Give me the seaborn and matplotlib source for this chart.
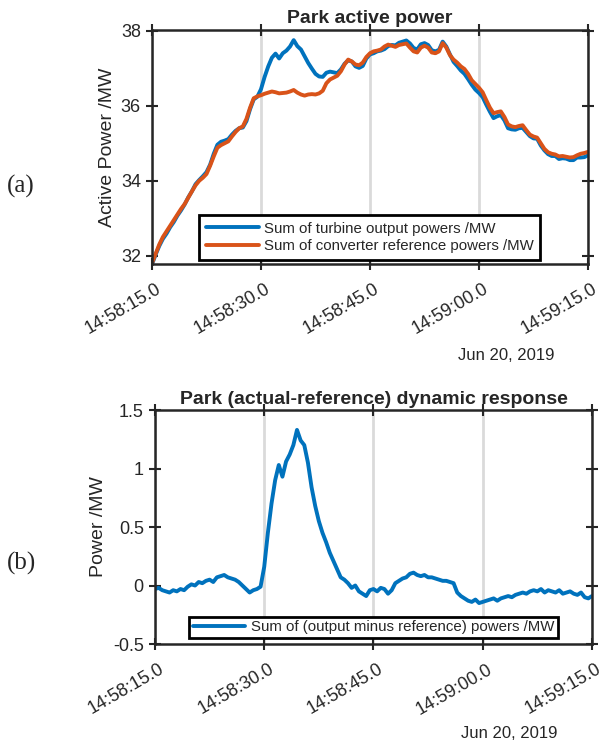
import numpy as np
import pandas as pd
import matplotlib
matplotlib.use("Agg")
import matplotlib.pyplot as plt
import matplotlib.dates as mdates
from matplotlib.ticker import FuncFormatter, FixedLocator
from matplotlib.transforms import ScaledTranslation
import seaborn as sns

# ---------------- data ----------------
start_time = "2019-06-20 14:58:15"
n_samples = 121          # one sample every 0.5 s, 14:58:15 .. 14:59:15

turbine_output = [
    31.77, 32.03, 32.26, 32.45, 32.59, 32.76, 32.90, 33.07, 33.21, 33.37,
    33.56, 33.72, 33.91, 34.02, 34.12, 34.23, 34.43, 34.72, 34.96, 35.04,
    35.07, 35.11, 35.23, 35.33, 35.40, 35.42, 35.59, 35.91, 36.17, 36.24,
    36.44, 36.77, 37.05, 37.28, 37.39, 37.26, 37.40, 37.47, 37.58, 37.75,
    37.59, 37.50, 37.32, 37.14, 36.99, 36.85, 36.78, 36.77, 36.88, 36.91,
    36.89, 36.87, 36.97, 37.12, 37.21, 37.18, 37.05, 37.01, 37.06, 37.26,
    37.37, 37.40, 37.45, 37.47, 37.51, 37.59, 37.62, 37.61, 37.68, 37.71,
    37.74, 37.66, 37.54, 37.50, 37.64, 37.67, 37.62, 37.48, 37.45, 37.49,
    37.71, 37.58, 37.37, 37.17, 37.06, 36.94, 36.85, 36.71, 36.56, 36.43,
    36.34, 36.23, 36.03, 35.84, 35.67, 35.72, 35.75, 35.61, 35.40, 35.37,
    35.36, 35.40, 35.41, 35.30, 35.19, 35.13, 35.12, 34.94, 34.81, 34.71,
    34.66, 34.66, 34.58, 34.60, 34.59, 34.55, 34.55, 34.62, 34.62, 34.63,
    34.68,
]

converter_reference = [
    31.80, 32.05, 32.30, 32.50, 32.65, 32.80, 32.95, 33.10, 33.25, 33.38,
    33.55, 33.72, 33.88, 34.00, 34.08, 34.18, 34.40, 34.65, 34.88, 34.95,
    35.00, 35.05, 35.18, 35.30, 35.40, 35.45, 35.65, 35.95, 36.20, 36.25,
    36.28, 36.32, 36.35, 36.38, 36.36, 36.33, 36.34, 36.35, 36.38, 36.42,
    36.35, 36.30, 36.27, 36.30, 36.31, 36.30, 36.33, 36.40, 36.60, 36.70,
    36.75, 36.80, 36.92, 37.10, 37.23, 37.18, 37.10, 37.08, 37.15, 37.30,
    37.40, 37.45, 37.47, 37.50, 37.58, 37.63, 37.60, 37.57, 37.62, 37.64,
    37.66, 37.55, 37.45, 37.42, 37.55, 37.60, 37.55, 37.42, 37.40, 37.45,
    37.67, 37.55, 37.35, 37.23, 37.15, 37.05, 36.98, 36.85, 36.68, 36.58,
    36.48, 36.36, 36.15, 35.95, 35.80, 35.83, 35.85, 35.70, 35.50, 35.45,
    35.43, 35.46, 35.48, 35.35, 35.23, 35.18, 35.15, 35.00, 34.85, 34.76,
    34.72, 34.70, 34.65, 34.66, 34.64, 34.62, 34.63, 34.68, 34.72, 34.74,
    34.77,
]

output_minus_reference = [
    -0.03, -0.02, -0.04, -0.05, -0.06, -0.04, -0.05, -0.03, -0.04, -0.01,
     0.01,  0.00,  0.03,  0.02,  0.04,  0.05,  0.03,  0.07,  0.08,  0.09,
     0.07,  0.06,  0.05,  0.03,  0.00, -0.03, -0.06, -0.04, -0.03, -0.01,
     0.16,  0.45,  0.70,  0.90,  1.03,  0.93,  1.06,  1.12,  1.20,  1.33,
     1.24,  1.20,  1.05,  0.84,  0.68,  0.55,  0.45,  0.37,  0.28,  0.21,
     0.14,  0.07,  0.05,  0.02, -0.02,  0.00, -0.05, -0.07, -0.09, -0.04,
    -0.03, -0.05, -0.02, -0.03, -0.07, -0.04,  0.02,  0.04,  0.06,  0.07,
     0.10,  0.11,  0.09,  0.08,  0.09,  0.07,  0.07,  0.06,  0.05,  0.04,
     0.04,  0.03,  0.02, -0.06, -0.09, -0.11, -0.13, -0.14, -0.12, -0.15,
    -0.14, -0.13, -0.12, -0.11, -0.13, -0.11, -0.10, -0.09, -0.10, -0.08,
    -0.07, -0.06, -0.07, -0.05, -0.04, -0.05, -0.03, -0.06, -0.04, -0.05,
    -0.06, -0.04, -0.07, -0.06, -0.05, -0.07, -0.08, -0.06, -0.10, -0.11,
    -0.09,
]

top_yticks = [32, 34, 36, 38]
bottom_yticks = [-0.5, 0, 0.5, 1, 1.5]
bottom_yticklabels = ["-0.5", "0", "0.5", "1", "1.5"]
xtick_times = ["2019-06-20 14:58:15", "2019-06-20 14:58:30", "2019-06-20 14:58:45",
               "2019-06-20 14:59:00", "2019-06-20 14:59:15"]
date_label = "Jun 20, 2019"

times = pd.date_range(start_time, periods=n_samples, freq="500ms")
df = pd.DataFrame({"time": times,
                   "turbine": turbine_output,
                   "converter": converter_reference,
                   "diff": output_minus_reference})

# ---------------- style ----------------
sns.set_style("ticks")
plt.rcParams["font.family"] = ["Liberation Sans", "DejaVu Sans"]

BLUE = "#0072BD"
ORANGE = "#D95319"
DARK = "#262626"
LW = 2.8

fig = plt.figure(figsize=(6.0, 7.46), dpi=100)
ax1 = fig.add_axes([0.2533, 0.6461, 0.7267, 0.3137])
ax2 = fig.add_axes([0.2583, 0.1367, 0.7283, 0.3137])

sns.lineplot(data=df, x="time", y="turbine", ax=ax1, color=BLUE, lw=LW,
             label="Sum of turbine output powers /MW")
sns.lineplot(data=df, x="time", y="converter", ax=ax1, color=ORANGE, lw=LW,
             label="Sum of converter reference powers /MW")
sns.lineplot(data=df, x="time", y="diff", ax=ax2, color=BLUE, lw=LW,
             label="Sum of (output minus reference) powers /MW")

xt = [mdates.date2num(pd.Timestamp(t)) for t in xtick_times]
fmt = FuncFormatter(lambda v, p: mdates.num2date(v).strftime("%H:%M:%S") + ".0")

for ax in (ax1, ax2):
    ax.set_xlim(xt[0], xt[-1])
    ax.xaxis.set_major_locator(FixedLocator(xt))
    ax.xaxis.set_major_formatter(fmt)
    ax.grid(axis="x", color="#dadada", lw=2.0)
    ax.set_axisbelow(True)
    for s in ax.spines.values():
        s.set_visible(True)
        s.set_linewidth(1.8)
        s.set_color(DARK)
    ax.tick_params(axis="both", which="major", direction="inout", length=8,
                   width=1.5, color=DARK, top=True, right=True,
                   labelcolor=DARK)
    ax.tick_params(axis="y", labelsize=13, pad=4)
    ax.tick_params(axis="x", labelsize=13, pad=8)
    ax.set_xlabel("")
    off = ScaledTranslation(4 / 100, 0, fig.dpi_scale_trans)
    for lab in ax.get_xticklabels():
        lab.set_rotation(30)
        lab.set_ha("right")
        lab.set_va("top")
        lab.set_rotation_mode("anchor")
        lab.set_transform(lab.get_transform() + off)

ax1.set_ylim(31.78, 38.02)
ax1.set_yticks(top_yticks)
ax1.set_yticklabels([str(v) for v in top_yticks])
ax1.set_ylabel("Active Power /MW", fontsize=14, color=DARK)
ax1.yaxis.set_label_coords(-0.083, 0.5)
ax1.set_title("Park active power", fontweight="bold", fontsize=14, pad=5)

ax2.set_ylim(-0.5, 1.5)
ax2.set_yticks(bottom_yticks)
ax2.set_yticklabels(bottom_yticklabels)
ax2.set_ylabel("Power /MW", fontsize=14, color=DARK)
ax2.yaxis.set_label_coords(-0.11, 0.5)
ax2.set_title("Park (actual-reference) dynamic response", fontweight="bold",
              fontsize=14, pad=4)

for ax, anchor_y, bp in ((ax1, 0.017, 0.45), (ax2, 0.025, 0.25)):
    leg = ax.legend(loc="lower center", bbox_to_anchor=(0.5, anchor_y),
                    frameon=True, fancybox=False, framealpha=1,
                    edgecolor="black", fontsize=10.8, handlelength=3.5,
                    labelspacing=0.25, borderpad=bp, handletextpad=0.35,
                    borderaxespad=0)
    leg.get_frame().set_linewidth(2.0)
    for line in leg.get_lines():
        line.set_linewidth(LW)

fig.text(506 / 600, 1 - 355 / 746, date_label, ha="center", va="center",
         fontsize=12, color=DARK)
fig.text(509 / 600, 1 - 733 / 746, date_label, ha="center", va="center",
         fontsize=12, color=DARK)

fig.text(21 / 600, 1 - 186 / 746, "(a)", ha="center", va="center",
         fontsize=18, family=["Liberation Serif", "DejaVu Serif"])
fig.text(22 / 600, 1 - 563 / 746, "(b)", ha="center", va="center",
         fontsize=18, family=["Liberation Serif", "DejaVu Serif"])

fig.savefig("out.png", dpi=100)
